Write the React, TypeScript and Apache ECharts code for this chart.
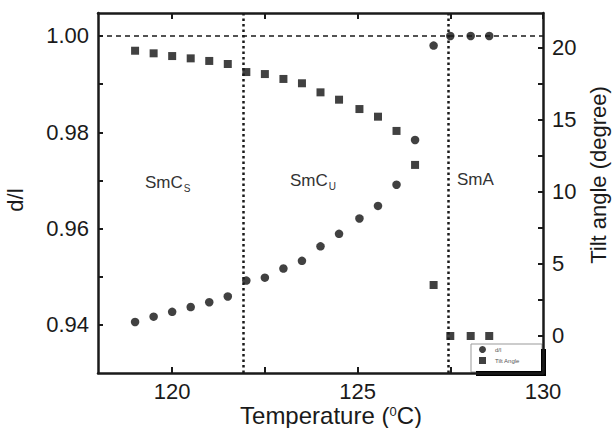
import React, { useEffect, useRef } from "react";
import * as echarts from "echarts";

const temperature = [119.0, 119.5, 120.0, 120.5, 121.0, 121.5, 122.0, 122.5, 123.0, 123.5, 124.0, 124.5, 125.05, 125.55, 126.05, 126.55, 127.05, 127.5, 128.05, 128.55];
const dOverL = [0.9406, 0.9417, 0.9427, 0.9437, 0.9447, 0.9459, 0.9492, 0.9498, 0.9517, 0.9533, 0.9563, 0.9589, 0.9621, 0.9647, 0.9691, 0.9784, 0.998, 1.0, 1.0, 1.0];
const tiltAngle = [19.81, 19.63, 19.44, 19.28, 19.1, 18.89, 18.33, 18.19, 17.85, 17.55, 16.92, 16.41, 15.76, 15.23, 14.24, 11.88, 3.54, 0, 0, 0];

const xLabels = [120, 125, 130];
const xTicks = [120, 122.5, 125, 127.5, 130];
const leftLabels = [0.94, 0.96, 0.98, 1.0];
const leftTicks = [0.94, 0.95, 0.96, 0.97, 0.98, 0.99, 1.0];
const rightLabels = [0, 5, 10, 15, 20];
const rightTicks = [0, 2.5, 5, 7.5, 10, 12.5, 15, 17.5, 20];
const phaseBoundaries = [121.92, 127.45];
const referenceDL = 1.0;

const FONT = "'Liberation Sans', Arial, sans-serif";
const INK = "#1a1a1a";

const mkLine = () => ({ show: true, onZero: false, lineStyle: { color: INK, width: 2.5 } });
const mkTick = (vals: number[], len: number) => ({
  show: true,
  inside: true,
  length: len,
  customValues: vals,
  lineStyle: { color: INK, width: 2 },
});

export default function App() {
  const ref = useRef<HTMLDivElement>(null);
  useEffect(() => {
    if (!ref.current) return;
    const chart = echarts.init(ref.current, null, { renderer: "svg" });
    const option: any = {
      animation: false,
      backgroundColor: "#fff",
      textStyle: { fontFamily: FONT },
      grid: { left: 98, right: 71, top: 13, bottom: 55 },
      xAxis: [
        {
          type: "value",
          min: 118,
          max: 130,
          position: "bottom",
          axisLine: mkLine(),
          splitLine: { show: false },
          axisTick: mkTick(xTicks, 6),
          axisLabel: { customValues: xLabels, fontSize: 22, color: INK, margin: 7, fontFamily: FONT },
        },
        {
          type: "value",
          min: 118,
          max: 130,
          position: "top",
          axisLine: mkLine(),
          splitLine: { show: false },
          axisTick: mkTick(xTicks, 6),
          axisLabel: { show: false },
        },
      ],
      yAxis: [
        {
          type: "value",
          min: 0.93,
          max: 1.00477,
          position: "left",
          axisLine: mkLine(),
          splitLine: { show: false },
          axisTick: mkTick(leftTicks, 5),
          axisLabel: {
            customValues: leftLabels,
            fontSize: 22,
            color: INK,
            margin: 9,
            fontFamily: FONT,
            formatter: (v: number) => v.toFixed(2),
          },
        },
        {
          type: "value",
          min: -2.57,
          max: 22.43,
          position: "right",
          axisLine: mkLine(),
          splitLine: { show: false },
          axisTick: mkTick(rightTicks, 5),
          axisLabel: { customValues: rightLabels, fontSize: 22, color: INK, margin: 9, fontFamily: FONT },
        },
      ],
      legend: {
        left: 479,
        top: 346,
        orient: "vertical",
        itemWidth: 7,
        itemHeight: 7,
        itemGap: 4,
        padding: 0,
        textStyle: { fontSize: 6, color: "#555", fontFamily: FONT, padding: [0, 0, 0, 4] },
        data: [
          { name: "d/l", icon: "circle" },
          { name: "Tilt Angle", icon: "rect" },
        ],
      },
      graphic: [
        { type: "rect", shape: { x: 471, y: 344, width: 71, height: 28 }, style: { fill: "#fff", stroke: "#999", lineWidth: 1 } },
        { type: "rect", shape: { x: 541, y: 349, width: 5, height: 27 }, style: { fill: "#000" } },
        { type: "rect", shape: { x: 476, y: 371, width: 70, height: 5 }, style: { fill: "#000" } },
        {
          type: "text",
          x: 15,
          y: 200,
          rotation: Math.PI / 2,
          style: { text: "d/l", fontSize: 22, fill: INK, fontFamily: FONT, textAlign: "center", textVerticalAlign: "middle" },
        },
        {
          type: "text",
          x: 598,
          y: 175,
          rotation: Math.PI / 2,
          style: { text: "Tilt angle (degree)", fontSize: 22, fill: INK, fontFamily: FONT, textAlign: "center", textVerticalAlign: "middle" },
        },
        {
          type: "text",
          x: 331,
          y: 415,
          style: {
            text: "{a|Temperature (}{s|0}{a|C)}",
            fontFamily: FONT,
            textAlign: "center",
            textVerticalAlign: "middle",
            rich: {
              a: { fontSize: 24, lineHeight: 20, fill: INK, fontFamily: FONT },
              s: { fontSize: 13, lineHeight: 20, fill: INK, fontFamily: FONT, verticalAlign: "top", padding: [0, 0, 6, 0] },
            },
          },
        },
        {
          type: "text",
          x: 145,
          y: 182,
          style: {
            text: "{a|SmC}{s|S}",
            fontFamily: FONT,
            textVerticalAlign: "middle",
            rich: {
              a: { fontSize: 17, fill: "#333", fontFamily: FONT },
              s: { fontSize: 10, fill: "#333", fontFamily: FONT, padding: [12, 0, 0, 1] },
            },
          },
        },
        {
          type: "text",
          x: 290,
          y: 180,
          style: {
            text: "{a|SmC}{s|U}",
            fontFamily: FONT,
            textVerticalAlign: "middle",
            rich: {
              a: { fontSize: 17, fill: "#333", fontFamily: FONT },
              s: { fontSize: 10, fill: "#333", fontFamily: FONT, padding: [12, 0, 0, 1] },
            },
          },
        },
        {
          type: "text",
          x: 457,
          y: 179,
          style: { text: "SmA", fontSize: 17, fill: "#333", fontFamily: FONT, textVerticalAlign: "middle" },
        },
      ],
      series: [
        {
          name: "d/l",
          type: "scatter",
          xAxisIndex: 0,
          yAxisIndex: 0,
          symbol: "circle",
          symbolSize: 8.5,
          itemStyle: { color: "#111" },
          data: temperature.map((t, i) => [t, dOverL[i]]),
          markLine: {
            silent: true,
            symbol: "none",
            label: { show: false },
            data: [
              { yAxis: referenceDL, lineStyle: { type: [5, 4], width: 1.5, color: INK } },
              ...phaseBoundaries.map((b) => ({ xAxis: b, lineStyle: { type: [2.5, 3], width: 2.5, color: INK } })),
            ],
          },
        },
        {
          name: "Tilt Angle",
          type: "scatter",
          xAxisIndex: 0,
          yAxisIndex: 1,
          symbol: "rect",
          symbolSize: 8,
          itemStyle: { color: "#111" },
          data: temperature.map((t, i) => [t, tiltAngle[i]]),
        },
      ],
    };
    chart.setOption(option);
    return () => chart.dispose();
  }, []);
  return <div ref={ref} style={{ position: "fixed", left: 0, top: 0, width: 614, height: 428 }} />;
}
